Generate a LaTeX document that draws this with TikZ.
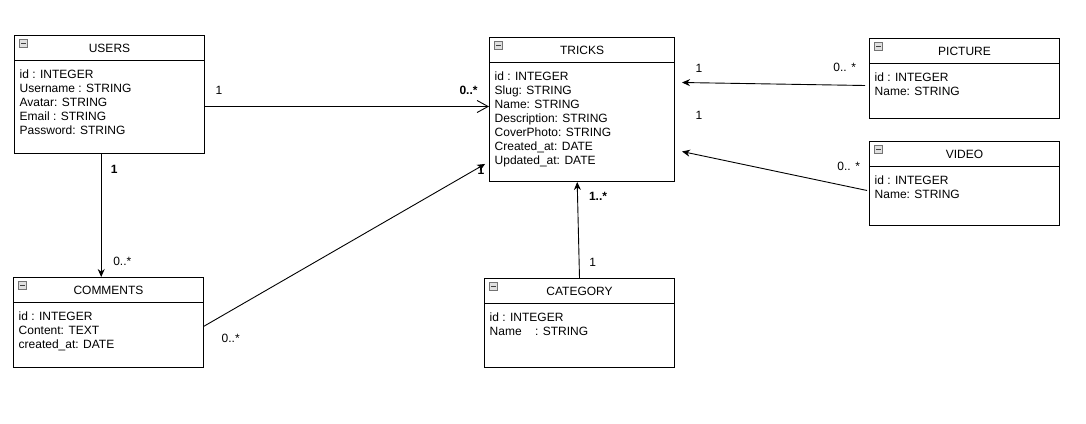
\documentclass[tikz,border=0pt]{standalone}
\usepackage{fontspec}
\setmainfont{Liberation Sans}
\usetikzlibrary{arrows.meta,calc,positioning}

\tikzset{
  classbox/.style={draw, line width=1pt, rectangle, inner sep=0pt, anchor=north west},
  classtitle/.style={inner sep=0pt, font=\fontsize{12}{14}\selectfont},
  classattrs/.style={inner sep=0pt, align=left, anchor=north west, font=\fontsize{12}{14}\selectfont},
  minusicon/.style={draw=black!55, fill=black!12, line width=0.6pt, minimum size=7.5pt, inner sep=0pt,
    path picture={\draw[black!75, line width=0.8pt] ([xshift=1.5pt]path picture bounding box.west) -- ([xshift=-1.5pt]path picture bounding box.east);}},
  mult/.style={inner sep=0pt, font=\fontsize{12}{14}\selectfont},
  multbold/.style={inner sep=0pt, font=\fontsize{12}{14}\selectfont\bfseries},
  assoc/.style={line width=0.9pt, -{Stealth[length=8pt,width=7pt]}},
  openassoc/.style={line width=0.9pt, -{Straight Barb[length=11pt,width=12pt]}},
}

\newcommand{\umlclass}[7]{%
  \node[classbox, minimum width=#4pt, minimum height=#5pt] (#1) at (#2,#3) {};
  \draw[line width=1pt] ($(#1.north west)+(0,25.5)$) -- ($(#1.north east)+(0,25.5)$);
  \node[minusicon] (#1-icon) at ($(#1.north west)+(9.3,8.3)$) {};
  \node[classtitle] (#1-title) at ($(#1.north)+(0,13.5)$) {#6};
  \node[classattrs] (#1-attrs) at ($(#1.north west)+(5.5,35)$) {#7};
}

\begin{document}
\begin{tikzpicture}[x=1pt,y=-1pt]
\useasboundingbox (0,0) rectangle (1086,423);

\umlclass{users}{14}{35}{190}{118}{USERS}{id : INTEGER\\Username : STRING\\Avatar: STRING\\Email : STRING\\Password: STRING}
\umlclass{tricks}{489}{37}{185}{144}{TRICKS}{id : INTEGER\\Slug: STRING\\Name: STRING\\Description: STRING\\CoverPhoto: STRING\\Created\_at: DATE\\Updated\_at: DATE}
\umlclass{picture}{869}{38}{190}{80}{PICTURE}{id : INTEGER\\Name: STRING}
\umlclass{video}{869}{141}{190}{84}{VIDEO}{id : INTEGER\\Name: STRING}
\umlclass{comments}{13}{277}{190}{90}{COMMENTS}{id : INTEGER\\Content: TEXT\\created\_at: DATE}
\umlclass{category}{484}{278}{190}{89}{CATEGORY}{id : INTEGER\\Name \ \ \ : STRING}

\coordinate (ut-start) at ($(users.east)+(0,12)$);
\coordinate (uc-start) at ($(users.south)+(-8.3,0)$);
\draw[openassoc] (ut-start) -- (ut-start -| tricks.west);
\draw[assoc] (uc-start) -- (uc-start |- comments.north);
\draw[assoc, shorten >=4.5pt] ($(comments.east)+(0,3.7)$) -- ($(tricks.south west)+(0,-20.3)$);
\draw[assoc] (category.north) -- ($(tricks.south)+(-4.8,0)$);
\draw[assoc] ($(picture.west)+(-4,7)$) -- ($(tricks.east)+(7,-27)$);
\draw[assoc] ($(video.west)+(-2,7)$) -- ($(tricks.east)+(7,42)$);

\node[mult] (ut-one) at (219,90) {1};
\node[multbold] (ut-many) at (468.5,90) {0..*};
\node[multbold] (uc-one) at (114.3,169) {1};
\node[mult] (uc-many) at (122.3,261.7) {0..*};
\node[mult] (ct-many) at (230.7,338.7) {0..*};
\node[multbold] (ct-one) at (481,170) {1};
\node[multbold] (kt-many) at (598,196.7) {1..*};
\node[mult] (kt-one) at (592.7,262.7) {1};
\node[mult] (pt-one) at (699,68.3) {1};
\node[mult] (pt-many) at (844.7,67.3) {0.. *};
\node[mult] (vt-one) at (699,115) {1};
\node[mult] (vt-many) at (848.7,166) {0.. *};
\end{tikzpicture}
\end{document}
